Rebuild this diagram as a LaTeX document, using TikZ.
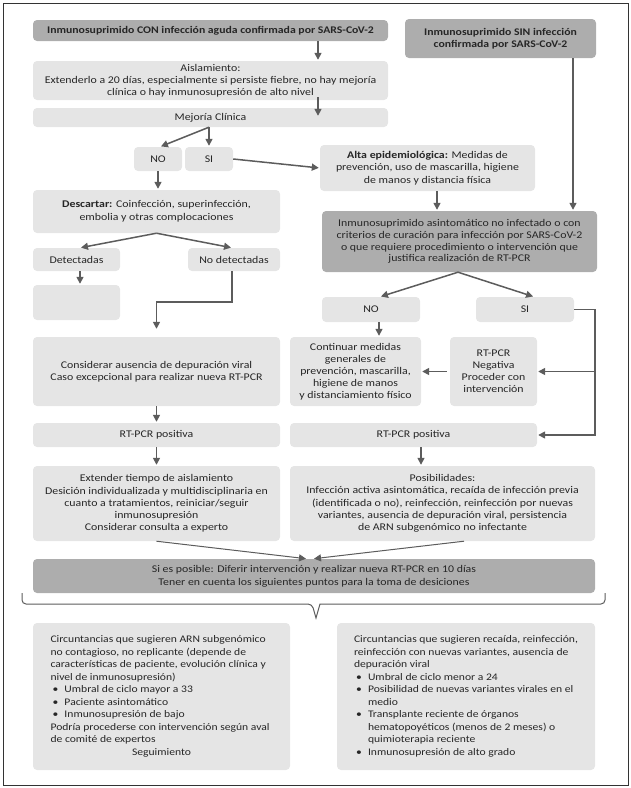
\documentclass[tikz,border=0pt]{standalone}
\usepackage{fontspec}
\setmainfont{Carlito}[FakeStretch=1.15]
\usetikzlibrary{arrows.meta, positioning}
\definecolor{boxlight}{gray}{0.9}
\definecolor{boxdark}{gray}{0.68}
\definecolor{linegray}{gray}{0.36}
\definecolor{txtgray}{gray}{0.15}
\newcommand{\fsz}[2]{\fontsize{#1}{#2}\selectfont}
\newcommand{\bul}{\hspace*{2pt}\makebox[12pt][l]{•}}

\begin{document}
\begin{tikzpicture}[x=1pt, y=-1pt, >={Triangle[length=7pt,width=7pt]},
    font=\fsz{10.3}{12},
    box/.style={fill=boxlight, rounded corners=4pt, align=center, inner sep=0pt, text=txtgray},
    darkbox/.style={box, fill=boxdark},
    boldbox/.style={darkbox, font=\fsz{10.2}{12}\bfseries},
    circbox/.style={box, align=left, minimum height=147pt, font=\fsz{10.1}{12.5}},
    arr/.style={->, draw=linegray, line width=1.5pt, shorten >=1pt},
    thinarr/.style={arr, line width=1pt}]
\useasboundingbox (0,0) rectangle (631,788);

% Frame
\draw[line width=1pt, black!80] (3,3) rectangle (628,785);

% Left branch: confirmed infection
\node[boldbox, minimum width=355pt, minimum height=21pt] (conA) at (210.5,30.5)
    {Inmunosuprimido CON infección aguda confirmada por SARS-CoV-2};
\node[box, minimum width=355pt, minimum height=39pt] (aisl) at (210.5,80.5)
    {Aislamiento:\\Extenderlo a 20 días, especialmente si persiste fiebre, no hay mejoría\\clínica o hay inmunosupresión de alto nivel};
\node[box, minimum width=355pt, minimum height=19pt] (mejo) at (210.5,117.5) {Mejoría Clínica};
\node[box, minimum width=48pt, minimum height=24pt] (no1) at (158,159) {NO};
\node[box, minimum width=48pt, minimum height=24pt] (si1) at (209,159) {SI};
\node[box, minimum width=247pt, minimum height=43pt, font=\fsz{10.3}{12.5}] (desc) at (156.5,211.5)
    {\textbf{Descartar:} Coinfección, superinfección,\\embolia y otras complocaciones};
\node[box, minimum width=87pt, minimum height=23pt] (det) at (76.5,259.5) {Detectadas};
\node[box, minimum width=92pt, minimum height=23pt] (nodet) at (234,259.5) {No detectadas};
\node[box, minimum width=87pt, minimum height=35pt] (empty) at (76.5,302.5) {};
\node[box, minimum width=247pt, minimum height=69pt, font=\fsz{10.3}{12.5}] (cons) at (156.5,371.5)
    {Considerar ausencia de depuración viral\\Caso excepcional para realizar nueva RT-PCR};
\node[box, minimum width=247pt, minimum height=24pt] (posL) at (156.5,435) {RT-PCR positiva};
\node[box, minimum width=247pt, minimum height=75pt, font=\fsz{10.3}{12.2}] (ext) at (156.5,503.5)
    {Extender tiempo de aislamiento\\Desición individualizada y multidisciplinaria en\\cuanto a tratamientos, reiniciar/seguir\\inmunosupresión\\Considerar consulta a experto};

% Right branch: no confirmed infection
\node[boldbox, minimum width=191pt, minimum height=39pt] (sinB) at (500.5,38.5)
    {Inmunosuprimido SIN infección\\confirmada por SARS-CoV-2};
\node[box, minimum width=215pt, minimum height=46pt, font=\fsz{10.3}{12.3}] (alta) at (427.5,168)
    {\textbf{Alta epidemiológica:} Medidas de\\prevención, uso de mascarilla, higiene\\de manos y distancia física};
\node[darkbox, minimum width=275pt, minimum height=61pt, font=\fsz{10.3}{11.8}] (asint) at (459.5,241.5)
    {Inmunosuprimido asintomático no infectado o con\\criterios de curación para infección por SARS-CoV-2\\o que requiere procedimiento o intervención que\\justifica realización de RT-PCR};
\node[box, minimum width=98pt, minimum height=25pt] (no2) at (371,309.5) {NO};
\node[box, minimum width=98pt, minimum height=25pt] (si2) at (525,309.5) {SI};
\node[box, minimum width=131pt, minimum height=69pt] (cont) at (355.5,371.5)
    {Continuar medidas\\generales de\\prevención, mascarilla,\\higiene de manos\\y distanciamiento físico};
\node[box, minimum width=87pt, minimum height=69pt] (neg) at (493.5,371.5)
    {RT-PCR\\Negativa\\Proceder con\\intervención};
\node[box, minimum width=247pt, minimum height=24pt] (posR) at (413.5,435) {RT-PCR positiva};
\node[box, minimum width=305pt, minimum height=75pt, font=\fsz{10.3}{12.2}] (posib) at (442.5,503.5)
    {Posibilidades:\\Infección activa asintomática, recaída de infección previa\\(identificada o no), reinfección, reinfección por nuevas\\variantes, ausencia de depuración viral, persistencia\\de ARN subgenómico no infectante};

% Joint decision
\node[darkbox, minimum width=562pt, minimum height=34pt, font=\fsz{10.3}{12.7}] (sies) at (314,576)
    {Si es posible: Diferir intervención y realizar nueva RT-PCR en 10 días\\Tener en cuenta los siguientes puntos para la toma de desiciones};
\node[circbox, minimum width=257pt] (circL) at (161.5,696.5)
    {Circuntancias que sugieren ARN subgenómico\\no contagioso, no replicante (depende de\\características de paciente, evolución clínica y\\nivel de inmunosupresión)\\
     \bul Umbral de ciclo mayor a 33\\
     \bul Paciente asintomático\\
     \bul Inmunosupresión de bajo\\
     Podría procederse con intervención según aval\\de comité de expertos\\
     \makebox[222pt]{Seguimiento}};
\node[circbox, minimum width=258pt] (circR) at (466,696.5)
    {Circuntancias que sugieren recaída, reinfección,\\reinfección con nuevas variantes, ausencia de\\depuración viral\\
     \bul Umbral de ciclo menor a 24\\
     \bul Posibilidad de nuevas variantes virales en el\\
     \hspace*{14pt}medio\\
     \bul Transplante reciente de órganos\\
     \hspace*{14pt}hematopoyéticos (menos de 2 meses) o\\
     \hspace*{14pt}quimioterapia reciente\\
     \bul Inmunosupresión de alto grado};

% Brace under the joint decision
\draw[draw=linegray, line width=1pt, rounded corners=4pt] (22,593) -- (22,604) -- (312,604)
    [sharp corners] -- (316,618) -- (320,604) [rounded corners=4pt] -- (605,604) -- (605,593);

% Arrows, left branch
\draw[arr] ([xshift=107.5pt]conA.south) -- ([xshift=107.5pt]aisl.north);
\draw[arr] ([xshift=107.5pt,yshift=3pt]aisl.south) -- ([xshift=107.5pt,yshift=-9pt]mejo.north);
\draw[arr] ([xshift=-1.5pt]mejo.south) -- ([xshift=2pt]no1.north);
\draw[arr] ([xshift=-1.5pt]mejo.south) -- (si1.north);
\draw[arr] (si1.east) -- (alta.west);
\draw[arr] (no1.south) -- (no1.south |- desc.north);
\draw[arr] (desc.south) -- ([xshift=3.5pt]det.north);
\draw[arr] (desc.south) -- ([xshift=-2pt]nodet.north);
\draw[arr] ([xshift=3.5pt]det.south) -- ([xshift=3.5pt]empty.north);
\draw[arr, shorten >=8pt] ([xshift=-2pt]nodet.south) -- ++(0,31) -| (cons.north);
\draw[arr] (cons.south) -- (posL.north);
\draw[arr] (posL.south) -- (ext.north);

% Arrows, right branch
\draw[arr] ([xshift=72.5pt]sinB.south) coordinate (bdown) -- (bdown |- asint.north);
\draw[arr] ([xshift=9.5pt]alta.south) coordinate (adown) -- (adown |- asint.north);
\draw[arr] ([xshift=-1.5pt]asint.south) -- ([xshift=9pt]no2.north);
\draw[arr] ([xshift=-1.5pt]asint.south) -- ([xshift=9pt]si2.north);
\draw[arr] ([xshift=8pt]no2.south) coordinate (ndown) -- (ndown |- cont.north);
\draw[arr] (si2.east) -- ++(21,0) coordinate (sright) |- (posR.east);
\draw[arr] (sright |- neg.east) -- (neg.east);
\draw[arr, shorten <=3pt] (neg.west) -- (cont.east);
\draw[arr] ([xshift=7.5pt]posR.south) coordinate (rdown) -- (rdown |- posib.north);

% Both branches meet
\draw[thinarr] (ext.south) -- ([xshift=-7pt]sies.north);
\draw[thinarr] ([xshift=21.5pt]posib.south) -- ([xshift=-1pt]sies.north);
\end{tikzpicture}
\end{document}
